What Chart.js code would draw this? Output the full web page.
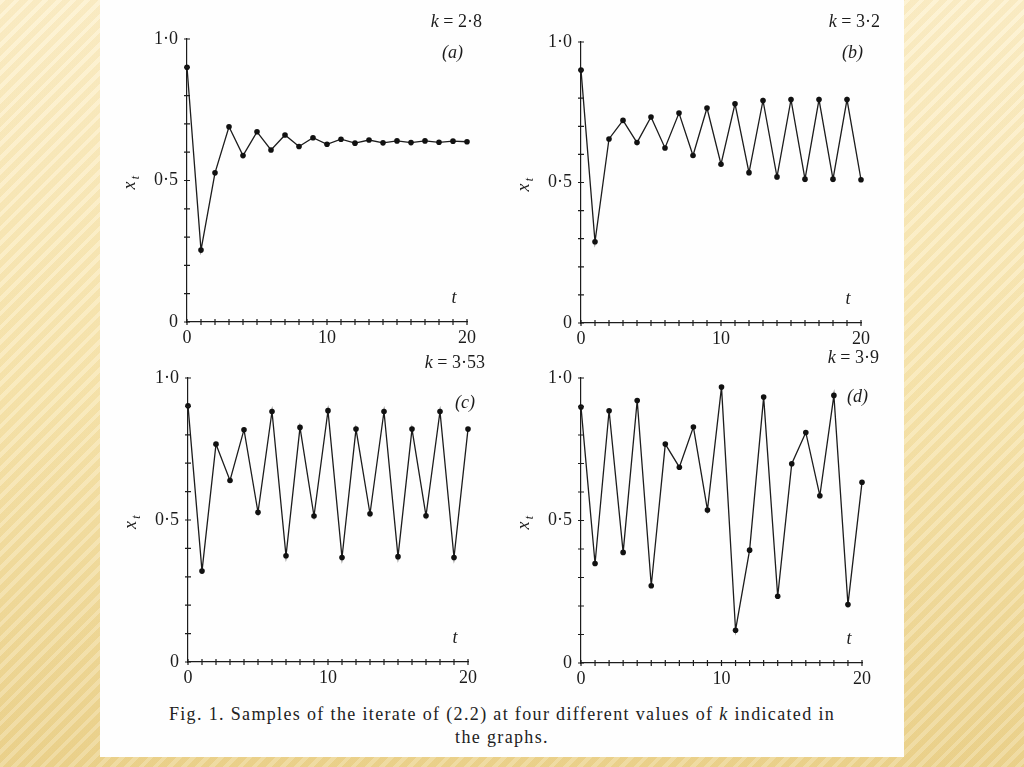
<!DOCTYPE html>
<html>
<head>
<meta charset="utf-8">
<script src="https://cdn.jsdelivr.net/npm/chart.js"></script>
<style>
  html, body { margin: 0; padding: 0; }
  body {
    width: 1024px; height: 767px; overflow: hidden; position: relative;
    background:
      repeating-linear-gradient(135deg, rgba(255,255,255,0.18) 0 4px, rgba(205,170,85,0.08) 4px 10px),
      linear-gradient(#fdf0cb, #f8e6b0 50%, #ecd38e);
  }
  #sheet { position: absolute; left: 100px; top: 0; width: 804px; height: 757px; background: #fefefe; }
  canvas { position: absolute; }
  #caption {
    position: absolute; left: 100px; top: 703px; width: 804px; text-align: center;
    font: 18px "Liberation Serif", "DejaVu Serif", serif; letter-spacing: 1.35px;
    line-height: 23px; color: #222;
  }
</style>
</head>
<body>
<div id="sheet"></div>
<canvas id="ca" width="380" height="345"></canvas>
<canvas id="cb" width="380" height="345"></canvas>
<canvas id="cc" width="380" height="345"></canvas>
<canvas id="cd" width="380" height="345"></canvas>
<div id="caption">Fig. 1. Samples of the iterate of (2.2) at four different values of <i>k</i> indicated in<br>the graphs.</div>
<script>
// time steps
var tSteps = [0,1,2,3,4,5,6,7,8,9,10,11,12,13,14,15,16,17,18,19,20];

// x_t
var xK28  = [0.90,0.254,0.527,0.690,0.588,0.672,0.608,0.661,0.620,0.651,0.628,0.646,0.632,0.643,0.633,0.640,0.634,0.640,0.635,0.639,0.637];
var xK32  = [0.90,0.289,0.655,0.721,0.642,0.733,0.623,0.747,0.596,0.765,0.565,0.780,0.535,0.792,0.520,0.795,0.512,0.795,0.512,0.795,0.510];
var xK353 = [0.902,0.320,0.767,0.639,0.818,0.527,0.882,0.374,0.826,0.514,0.885,0.368,0.820,0.522,0.882,0.371,0.820,0.515,0.882,0.368,0.820];
var xK39  = [0.898,0.349,0.885,0.388,0.921,0.271,0.768,0.687,0.828,0.537,0.968,0.115,0.396,0.933,0.234,0.699,0.809,0.587,0.939,0.205,0.634];

var kLabels = ["2·8", "3·2", "3·53", "3·9"];
var panelLabels = ["a", "b", "c", "d"];
var xTickLabels = {0: "0", 10: "10", 20: "20"};
var yTickLabels = {0: "0", 5: "0·5", 10: "1·0"};

// canvas placement and label offsets for each panel
var panels = [
  {id: "ca", left: 110, top: 0,   pad: {left: 0, top: 39, right: 23, bottom: 0}, xh: 23, series: xK28,  kdx: 15, kdy: -17, pdx: -4, pdy: 14},
  {id: "cb", left: 504, top: 0,   pad: {left: 0, top: 42, right: 23, bottom: 0}, xh: 22, series: xK32,  kdx: 19, kdy: -20, pdx: 2,  pdy: 11},
  {id: "cc", left: 111, top: 340, pad: {left: 0, top: 38, right: 23, bottom: 0}, xh: 23, series: xK353, kdx: 17, kdy: -15, pdx: 7,  pdy: 25},
  {id: "cd", left: 504, top: 340, pad: {left: 0, top: 38, right: 22, bottom: 0}, xh: 22, series: xK39,  kdx: 17, kdy: -20, pdx: 6,  pdy: 19}
];

var ink = "#1c1c1c";
var serif = "'Liberation Serif', 'DejaVu Serif', serif";

// little crosses on the axes, x_t and t titles, k = .. and (a) labels
var paperPlugin = {
  id: "paper",
  afterDraw: function (chart) {
    var ctx = chart.ctx;
    var a = chart.chartArea;
    var o = chart.options.plugins.paper;
    var xs = chart.scales.x, ys = chart.scales.y;
    ctx.save();
    ctx.strokeStyle = ink;
    ctx.lineWidth = 1.2;
    ctx.beginPath();
    xs.ticks.forEach(function (tk) {
      var px = xs.getPixelForValue(tk.value);
      ctx.moveTo(px, a.bottom - 3); ctx.lineTo(px, a.bottom + 3);
    });
    ys.ticks.forEach(function (tk) {
      var py = ys.getPixelForValue(tk.value);
      ctx.moveTo(a.left - 3, py); ctx.lineTo(a.left + 3, py);
    });
    ctx.stroke();

    ctx.fillStyle = ink;
    ctx.textBaseline = "middle";
    // k = ...
    ctx.textAlign = "left";
    ctx.font = "italic 18px " + serif;
    var kw = ctx.measureText("k").width;
    ctx.font = "18px " + serif;
    var rest = " = " + o.k;
    var rw = ctx.measureText(rest).width;
    var kx = a.right + o.kdx - kw - rw, ky = a.top + o.kdy;
    ctx.font = "italic 18px " + serif;
    ctx.fillText("k", kx, ky);
    ctx.font = "18px " + serif;
    ctx.fillText(rest, kx + kw, ky);
    // (a)
    ctx.textAlign = "right";
    ctx.font = "italic 18px " + serif;
    ctx.fillText("(" + o.panel + ")", a.right + o.pdx, a.top + o.pdy);
    // t
    ctx.textAlign = "center";
    ctx.fillText("t", a.right - 13, a.bottom - 24);
    // x_t rotated
    ctx.translate(a.left - 57, (a.top + a.bottom) / 2 + 2);
    ctx.rotate(-Math.PI / 2);
    ctx.textAlign = "center";
    ctx.font = "italic 18px " + serif;
    ctx.fillText("x", -3, 0);
    ctx.font = "italic 12px " + serif;
    ctx.fillText("t", 5, 6);
    ctx.restore();
  }
};

function makeChart(p, i) {
  var el = document.getElementById(p.id);
  el.style.left = p.left + "px";
  el.style.top = p.top + "px";
  var pts = tSteps.map(function (t, j) { return {x: t, y: p.series[j]}; });
  new Chart(el, {
    type: "line",
    data: {
      datasets: [{
        data: pts,
        borderColor: ink,
        borderWidth: 1.3,
        pointRadius: 2.8,
        pointBackgroundColor: "#111",
        pointBorderColor: "#111",
        pointBorderWidth: 0,
        tension: 0,
        clip: false
      }]
    },
    options: {
      responsive: false,
      animation: false,
      layout: { padding: p.pad },
      plugins: {
        legend: { display: false },
        tooltip: { enabled: false },
        paper: { k: kLabels[i], panel: panelLabels[i], kdx: p.kdx, kdy: p.kdy, pdx: p.pdx, pdy: p.pdy }
      },
      scales: {
        x: {
          type: "linear", min: 0, max: 20,
          afterFit: function (s) { s.height = p.xh; },
          ticks: {
            stepSize: 1, autoSkip: false, maxRotation: 0, padding: 5,
            color: ink, font: { family: serif, size: 18 },
            callback: function (v) { return xTickLabels[v] || ""; }
          },
          grid: { drawOnChartArea: false, drawTicks: false },
          border: { color: ink, width: 1.2 }
        },
        y: {
          min: 0, max: 1,
          afterFit: function (s) { s.width = 77; },
          ticks: {
            stepSize: 0.1, autoSkip: false, padding: 9,
            color: ink, font: { family: serif, size: 18 },
            callback: function (v) { return yTickLabels[Math.round(v * 10)] || ""; }
          },
          grid: { drawOnChartArea: false, drawTicks: false },
          border: { color: ink, width: 1.2 }
        }
      }
    },
    plugins: [paperPlugin]
  });
}

panels.forEach(makeChart);
</script>
</body>
</html>
